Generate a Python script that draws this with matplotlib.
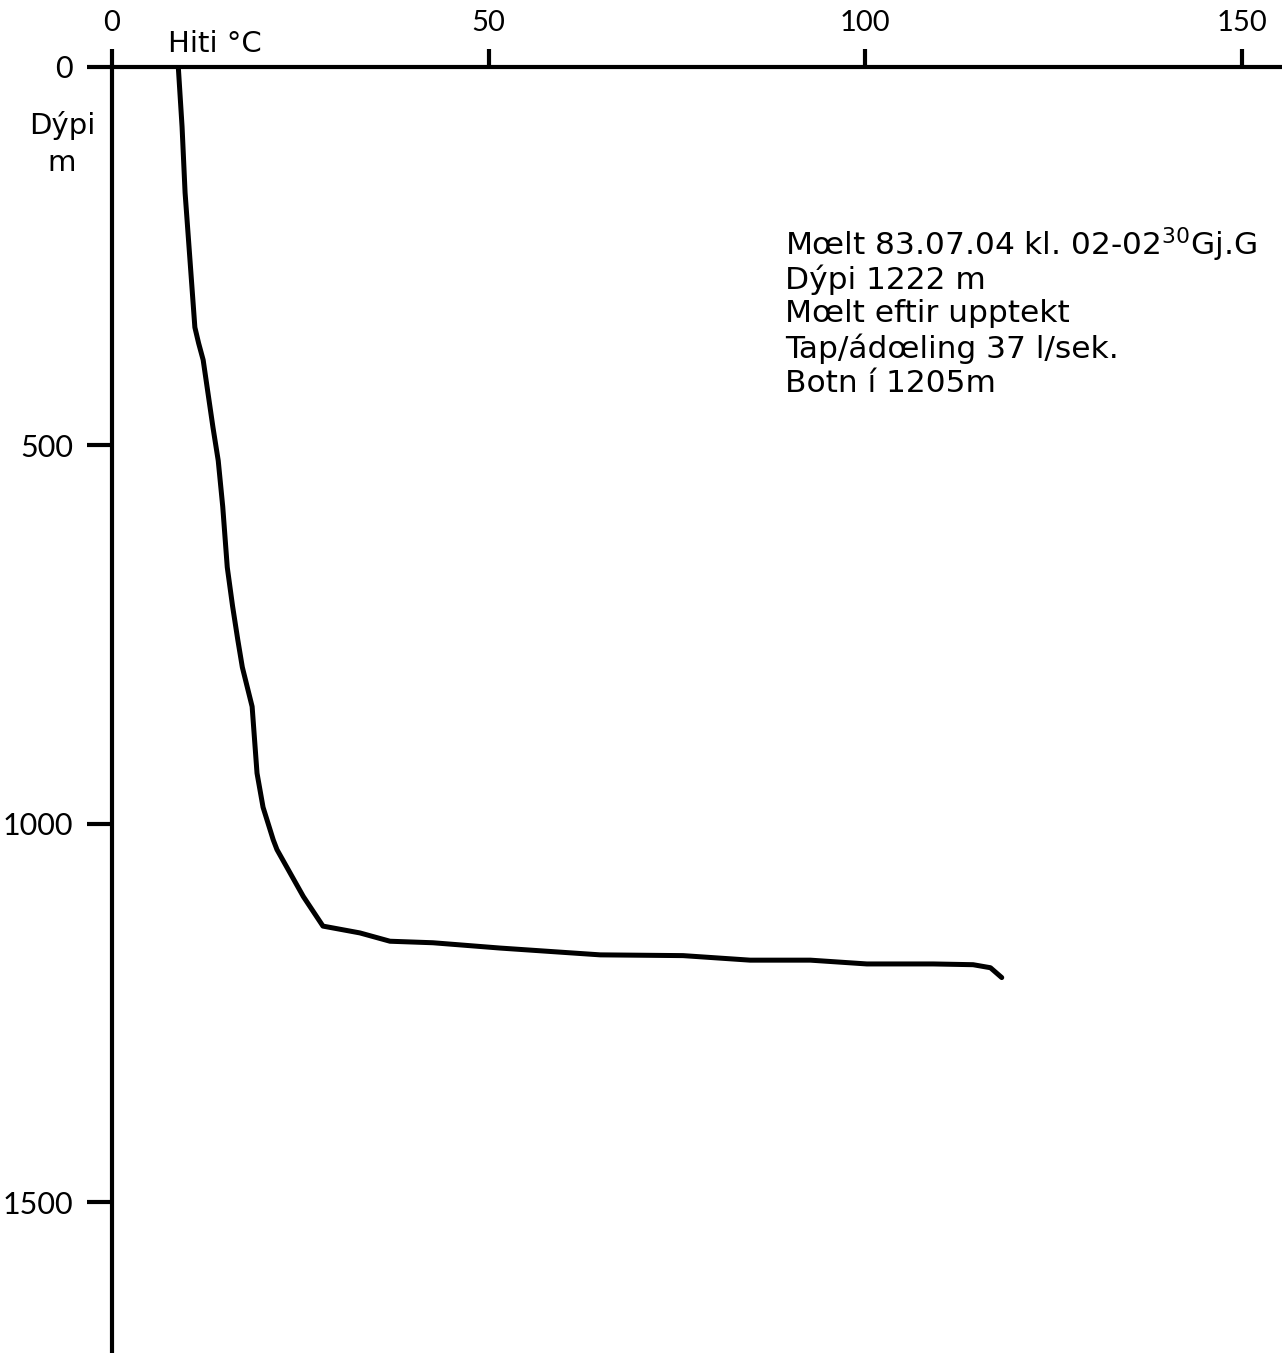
import numpy as np
import matplotlib.pyplot as plt

# hiti (°C) og dýpi (m), lesið af myndinni
temp = [8.8, 9.3, 9.7, 10.35, 11.0, 11.5, 12.1, 13.4, 14.1, 14.7, 15.3, 16.0,
        16.7, 17.3, 18.6, 19.25, 20.05, 21.4, 21.9, 25.4, 28.0, 32.9, 36.9,
        42.6, 51.5, 64.8, 75.8, 84.7, 92.7, 100.2, 109.0, 114.3, 116.6, 118.1]
depth = [0, 79, 166, 255, 344, 365, 387, 476, 520, 581, 661, 712,
         757, 793, 845, 933, 978, 1021, 1034, 1096, 1135, 1144, 1155,
         1157, 1164, 1173, 1174, 1180, 1180, 1185, 1185, 1186, 1190, 1203]

xticks = [0, 50, 100, 150]
yticks = [0, 500, 1000, 1500]

notes = ["Mœlt 83.07.04 kl. 02-02$^{\\mathregular{30}}$Gj.G",
         "Dýpi 1222 m",
         "Mœlt eftir upptekt",
         "Tap/ádœling 37 l/sek.",
         "Botn í 1205m"]

plt.rcParams['font.family'] = ['Lato', 'DejaVu Sans']

fig = plt.figure(figsize=(12.82, 13.53), dpi=100)
ax = fig.add_axes([112/1282, 0.0, 1 - 112/1282, 1 - 67/1353])

ax.plot(temp, depth, color='black', lw=3.6, solid_capstyle='round',
        solid_joinstyle='round')

ax.set_xlim(0, 155.3)
ax.set_ylim(1699, 0)

ax.xaxis.tick_top()
ax.set_xticks(xticks)
ax.set_yticks(yticks)
ax.set_xticklabels([str(t) for t in xticks])
ax.set_yticklabels([str(t) for t in yticks])
ax.tick_params(axis='x', direction='out', length=13, width=3, pad=9, labelsize=21)
ax.tick_params(axis='y', direction='out', length=18, width=3, pad=10, labelsize=22)

for side in ['right', 'bottom']:
    ax.spines[side].set_visible(False)
for side in ['top', 'left']:
    ax.spines[side].set_linewidth(3)

lab = dict(fontsize=21, family=['DejaVu Sans'])
fig.text(168/1282, 1 - 44/1353, "Hiti °C", va='center', ha='left', **lab)
fig.text(62/1282, 1 - 126/1353, "Dýpi", va='center', ha='center', **lab)
fig.text(62/1282, 1 - 163/1353, "m", va='center', ha='center', **lab)

for i, line in enumerate(notes):
    fig.text(785/1282, 1 - (245 + 34.5 * i)/1353, line, fontsize=22.5,
             family=['DejaVu Sans'], va='center', ha='left')

fig.savefig('out.png', dpi=100)
